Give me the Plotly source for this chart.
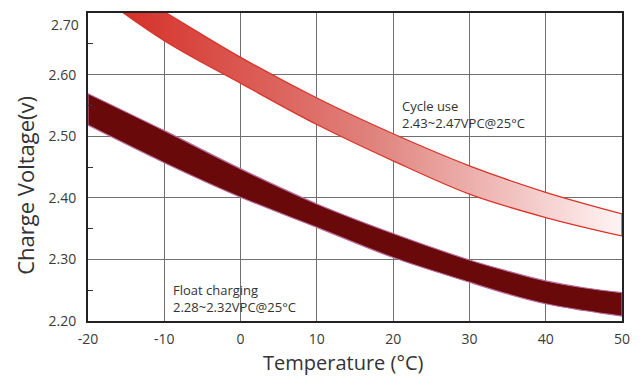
import plotly.graph_objects as go

# ---- data ----
cycle_temps = [-20, -10, 0, 10, 20, 30, 40, 50]
cycle_upper = [2.775, 2.702, 2.628, 2.562, 2.504, 2.452, 2.409, 2.374]
cycle_lower = [2.742, 2.655, 2.586, 2.519, 2.460, 2.406, 2.368, 2.338]
float_temps = [-20, -10, 0, 10, 20, 30, 35, 40, 45, 50]
float_upper = [2.569, 2.509, 2.447, 2.390, 2.342, 2.299, 2.281, 2.265, 2.254, 2.246]
float_lower = [2.518, 2.457, 2.401, 2.352, 2.303, 2.263, 2.244, 2.228, 2.217, 2.208]
x_ticks = [-20, -10, 0, 10, 20, 30, 40, 50]
x_tick_text = ["-20", "-10", "0", "10", "20", "30", "40", "50"]
y_ticks = [2.20, 2.30, 2.40, 2.50, 2.60]
y_tick_text = ["2.20", "2.30", "2.40", "2.50", "2.60"]
y_minor = [2.25, 2.35, 2.45, 2.55, 2.65]
top_label = "2.70"
cycle_lines = ["Cycle use", "2.43~2.47VPC@25°C"]
float_lines = ["Float charging", "2.28~2.32VPC@25°C"]

FONT = "Open Sans"
RED = "#D8342A"
DARK = "#6A0909"
PINK = "#B86A9C"
TXT = "#3a3a3a"

fig = go.Figure()

spl = dict(shape="spline", smoothing=1.0)

# cycle band
fig.add_trace(go.Scatter(x=cycle_temps, y=cycle_lower, mode="lines",
                         line=dict(color=RED, width=1.3, **spl),
                         showlegend=False, hoverinfo="skip"))
fig.add_trace(go.Scatter(x=cycle_temps, y=cycle_upper, mode="lines", fill="tonexty",
                         fillgradient=dict(type="horizontal", start=-15, stop=50,
                                           colorscale=[[0, "#D5322A"], [0.5, "#E0837D"], [1, "#FFF4F4"]]),
                         line=dict(color=RED, width=1.3, **spl),
                         showlegend=False, hoverinfo="skip"))
fig.add_trace(go.Scatter(x=[cycle_temps[-1]] * 2, y=[cycle_lower[-1], cycle_upper[-1]], mode="lines",
                         line=dict(color=RED, width=1.3), showlegend=False, hoverinfo="skip"))

# float band
fig.add_trace(go.Scatter(x=float_temps, y=float_lower, mode="lines",
                         line=dict(color=PINK, width=1.2, **spl),
                         showlegend=False, hoverinfo="skip"))
fig.add_trace(go.Scatter(x=float_temps, y=float_upper, mode="lines", fill="tonexty", fillcolor=DARK,
                         line=dict(color=PINK, width=1.2, **spl),
                         showlegend=False, hoverinfo="skip"))
for i in (0, len(float_temps) - 1):
    fig.add_trace(go.Scatter(x=[float_temps[i]] * 2, y=[float_lower[i], float_upper[i]], mode="lines",
                             line=dict(color=PINK, width=1.2), showlegend=False, hoverinfo="skip"))


def label(text, x, y):
    return dict(text=text, xref="x", yref="y", x=x, y=y, xanchor="left", yanchor="middle",
                showarrow=False, font=dict(size=13, color="#333", family=FONT))


fig.update_layout(
    width=643, height=376,
    margin=dict(l=88, r=21, t=11, b=55),
    paper_bgcolor="white", plot_bgcolor="white",
    font=dict(family=FONT, color=TXT),
    xaxis=dict(range=[-20, 50], tickvals=x_ticks, ticktext=x_tick_text, showgrid=True,
               gridcolor="#707070", gridwidth=1.3,
               showline=True, linecolor="#222", linewidth=2, mirror=True, ticks="",
               tickfont=dict(size=14, color=TXT), ticklabelstandoff=4, zeroline=False),
    yaxis=dict(range=[2.20, 2.70], tickvals=y_ticks, ticktext=y_tick_text, showgrid=True,
               gridcolor="#707070", gridwidth=1.3,
               showline=True, linecolor="#222", linewidth=2, mirror=True, ticks="",
               tickfont=dict(size=14, color=TXT), ticklabelstandoff=7, zeroline=False,
               minor=dict(tickvals=y_minor, ticks="inside", ticklen=5,
                          tickcolor="#333", tickwidth=1.3, showgrid=False)),
    annotations=[
        dict(text=top_label, xref="paper", yref="y", x=0, y=2.70, xanchor="right", yanchor="middle",
             xshift=-7, yshift=-11, showarrow=False, font=dict(size=14, color=TXT, family=FONT)),
        dict(text="Temperature (°C)", xref="paper", yref="paper", x=0.479, y=0, xanchor="center",
             yanchor="middle", yshift=-41.5, showarrow=False, font=dict(size=20, color="#333", family=FONT)),
        dict(text="Charge Voltage(v)", xref="paper", yref="paper", x=0, y=0.439, xanchor="center",
             yanchor="middle", xshift=-63, textangle=-90, showarrow=False,
             font=dict(size=22, color="#333", family=FONT)),
        label(cycle_lines[0], 20.9, 2.549),
        label(cycle_lines[1], 20.9, 2.521),
        label(float_lines[0], -9.12, 2.250),
        label(float_lines[1], -9.12, 2.222),
    ],
)

fig.write_html("out.html")
